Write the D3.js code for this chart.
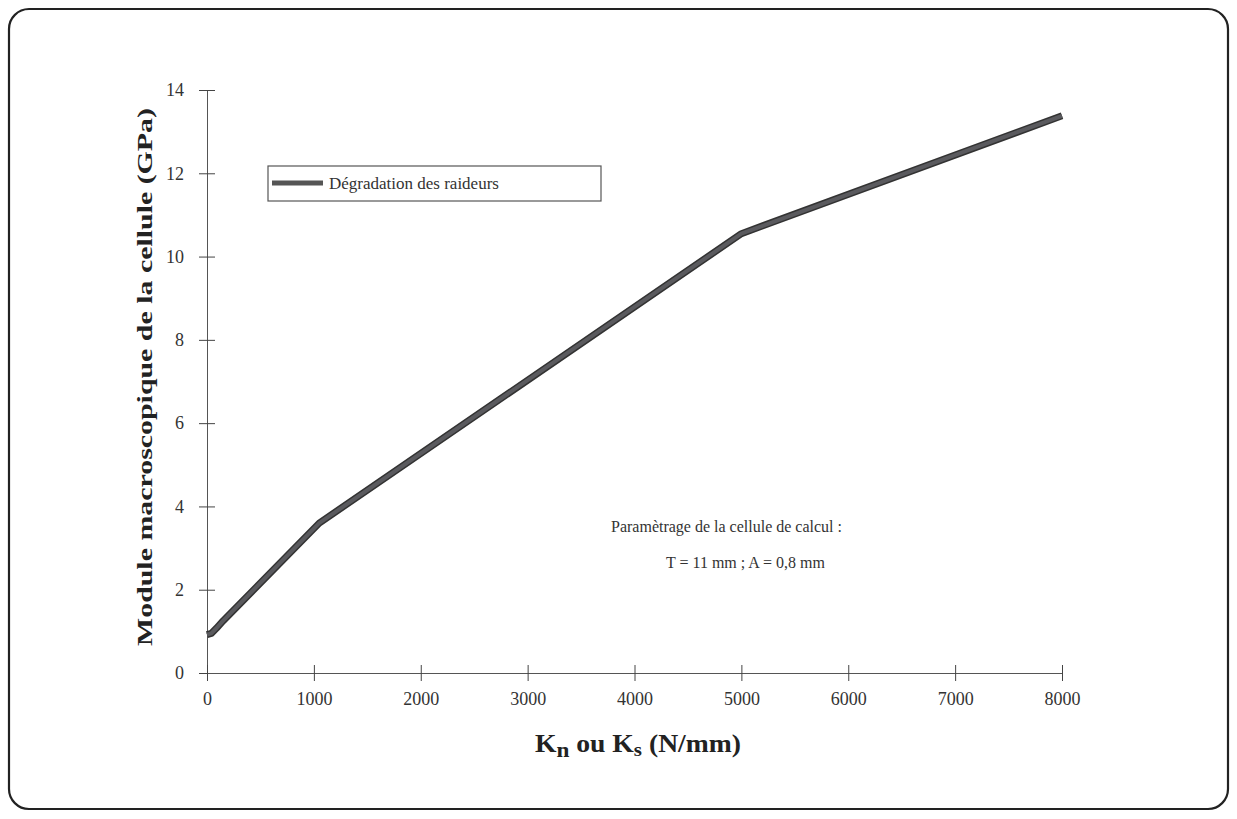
<!DOCTYPE html>
<html>
<head>
<meta charset="utf-8">
<script src="https://cdn.jsdelivr.net/npm/d3@7"></script>
<style>
  body { margin: 0; background: #fff; }
  svg text { font-family: "Liberation Serif", "Times New Roman", serif; fill: #333; }
</style>
</head>
<body>
<script>
// data
var stiffness = [0, 40, 90, 150, 1050, 5000, 8000];           // Kn ou Ks (N/mm)
var modulus   = [0.92, 0.95, 1.08, 1.25, 3.6, 10.55, 13.38];  // GPa
var x_ticks = [0, 1000, 2000, 3000, 4000, 5000, 6000, 7000, 8000];
var y_ticks = [0, 2, 4, 6, 8, 10, 12, 14];
var series_name = 'Dégradation des raideurs';
var note_lines = ['Paramètrage de la cellule de calcul :', 'T = 11 mm ; A = 0,8 mm'];

var width = 1237, height = 819;
var svg = d3.select('body').append('svg').attr('width', width).attr('height', height);

// frame round the whole figure
svg.append('rect').attr('x', 9).attr('y', 9).attr('width', 1219).attr('height', 800)
  .attr('rx', 20).attr('ry', 20).attr('fill', 'none').attr('stroke', '#222').attr('stroke-width', 2.2);

var x_scale = d3.scaleLinear().domain([0, 8000]).range([207, 1062]);
var y_scale = d3.scaleLinear().domain([0, 14]).range([673, 90]);

// axes: ticks cross the axis line on both sides
var y_axis = svg.append('g').attr('transform', 'translate(207,0)')
  .call(d3.axisLeft(y_scale).tickValues(y_ticks).tickFormat(d3.format('d')).tickSize(8).tickPadding(10));
y_axis.selectAll('.tick line').attr('x1', 8).attr('stroke', '#444');
y_axis.select('.domain').attr('stroke', '#555');
y_axis.selectAll('text').style('font-size', '18px').style('fill', '#333').attr('dx', '-5');

var x_axis = svg.append('g').attr('transform', 'translate(0,673)')
  .call(d3.axisBottom(x_scale).tickValues(x_ticks).tickFormat(d3.format('d')).tickSize(8).tickPadding(10));
x_axis.selectAll('.tick line').attr('y1', -8).attr('stroke', '#444');
x_axis.select('.domain').attr('stroke', '#555');
x_axis.selectAll('text').style('font-size', '18px').style('fill', '#333').attr('dy', '0.75em');

// the curve
var pts = stiffness.map(function(k, i) { return {k: k, e: modulus[i]}; });
var line_scale = d3.line().x(d => x_scale(d.k)).y(d => y_scale(d.e));
svg.append('path').attr('d', line_scale(pts)).attr('fill', 'none')
  .attr('stroke', '#333').attr('stroke-width', 7).attr('stroke-linejoin', 'round');
svg.append('path').attr('d', line_scale(pts)).attr('fill', 'none')
  .attr('stroke', '#5a5a5e').attr('stroke-width', 4).attr('stroke-linejoin', 'round');

// legend
var leg = svg.append('g');
leg.append('rect').attr('x', 268).attr('y', 166).attr('width', 333).attr('height', 35)
  .attr('fill', 'none').attr('stroke', '#555').attr('stroke-width', 1.2);
leg.append('line').attr('x1', 272).attr('x2', 323).attr('y1', 183).attr('y2', 183)
  .attr('stroke', '#555').attr('stroke-width', 5);
leg.append('text').attr('x', 329).attr('y', 189).style('font-size', '17px').text(series_name);

// note
svg.append('text').attr('x', 611).attr('y', 532).style('font-size', '16px').text(note_lines[0]);
svg.append('text').attr('x', 666).attr('y', 568).style('font-size', '16px').text(note_lines[1]);

// axis titles
svg.append('text').attr('transform', 'translate(152,377) rotate(-90)')
  .attr('text-anchor', 'middle').style('font-size', '22px').style('font-weight', 'bold')
  .style('fill', '#222').attr('textLength', 538).attr('lengthAdjust', 'spacingAndGlyphs')
  .text('Module macroscopique de la cellule (GPa)');

var xt = svg.append('text').attr('x', 638).attr('y', 752).attr('text-anchor', 'middle')
  .style('font-size', '25px').style('font-weight', 'bold').style('fill', '#222')
  .attr('textLength', 206).attr('lengthAdjust', 'spacingAndGlyphs');
xt.append('tspan').text('K');
xt.append('tspan').attr('dy', 5).style('font-size', '21px').text('n');
xt.append('tspan').attr('dy', -5).text(' ou K');
xt.append('tspan').attr('dy', 4).style('font-size', '19px').text('s');
xt.append('tspan').attr('dy', -4).text(' (N/mm)');
</script>
</body>
</html>
